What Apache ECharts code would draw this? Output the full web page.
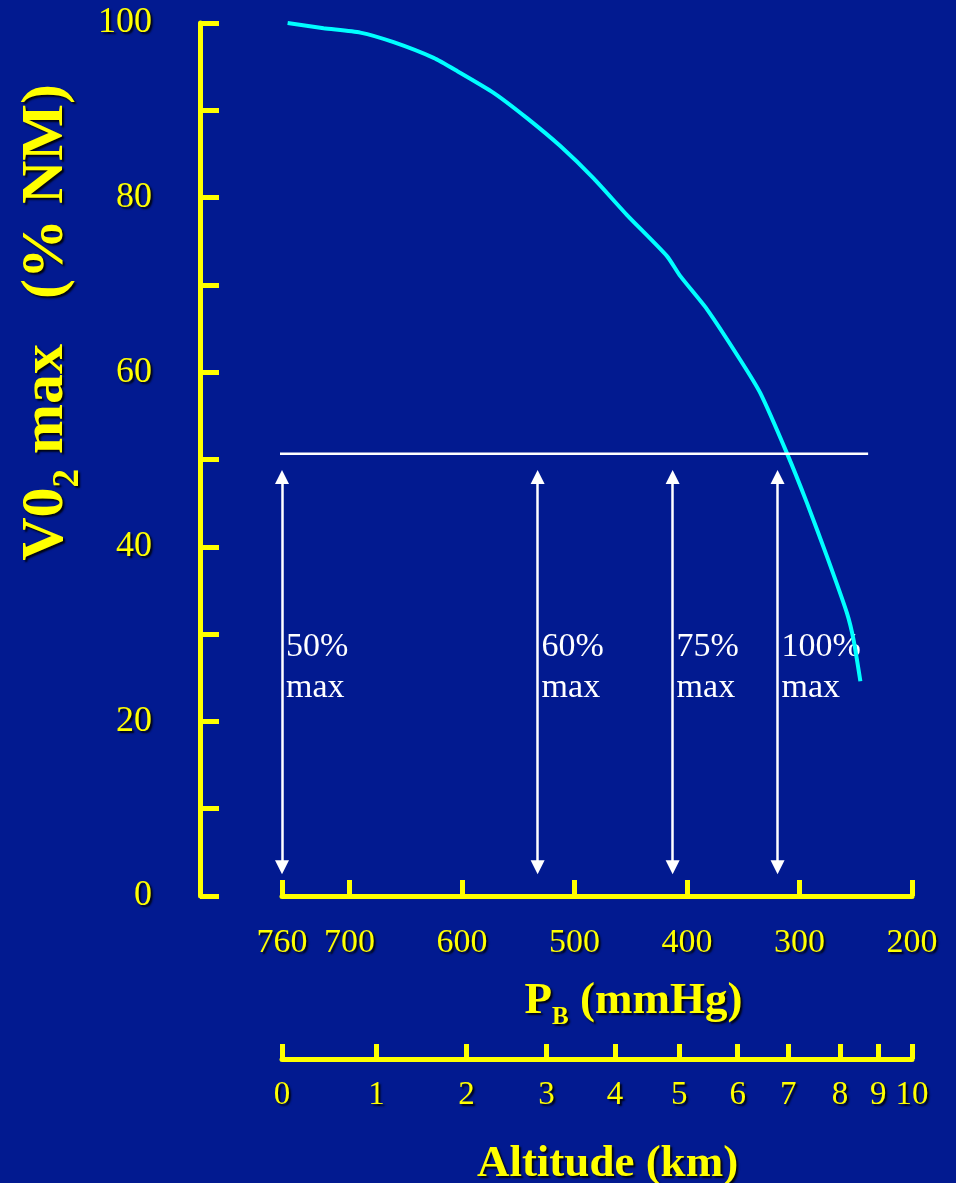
<!DOCTYPE html>
<html>
<head>
<meta charset="utf-8">
<script src="https://cdn.jsdelivr.net/npm/echarts@6/dist/echarts.min.js"></script>
<style>
  html, body { margin: 0; padding: 0; background: #021A90; }
  #chart { width: 956px; height: 1183px; }
</style>
</head>
<body>
<div id="chart"></div>
<script>
// ---- data ----
const yTickLabels = [0, 20, 40, 60, 80, 100];
const pressureTicks = [760, 700, 600, 500, 400, 300, 200];
const altitudeKm = [0, 1, 2, 3, 4, 5, 6, 7, 8, 9, 10];
const altitudePressure = [760, 676, 596, 525, 464, 407, 355, 310, 264, 230, 200];

const curvePressure = [755, 723, 690.4, 660.8, 625.2, 604.4, 571.9, 542.2, 512.6, 483, 453.3, 417.8, 405.9, 382.2, 352.6, 334.8, 311.1, 293.3, 275.6, 257.8, 251.9, 245.9];
const curveVo2 = [100, 99.4, 98.9, 97.8, 96.0, 94.5, 92.0, 89.1, 85.9, 82.2, 78.0, 73.3, 71.0, 67.2, 61.4, 57.6, 50.7, 45.0, 38.9, 32.4, 29.3, 24.6];

const refLevel = 50.65;
const refLinePressure = [773, 239];

const arrowPressure = [760, 532.8, 412.8, 319.5];
const arrowLabels = ['50%\nmax', '60%\nmax', '75%\nmax', '100%\nmax'];
const arrowTop = 48.0;
const arrowBottom = 3.3;
const arrowLabelLevel = 26.2;

// ---- styles ----
const YEL = '#FFFF00';
const SERIF = "'Liberation Serif', 'Times New Roman', serif";
const shadow = { textShadowColor: 'rgba(0,0,0,0.9)', textShadowOffsetX: 2, textShadowOffsetY: 2, textShadowBlur: 2 };

const chart = echarts.init(document.getElementById('chart'), null, { renderer: 'canvas' });

const option = {
  backgroundColor: '#021A90',
  animation: false,
  grid: { left: 282, right: 44, top: 23, bottom: 287, outerBoundsMode: 'none', containLabel: false },
  xAxis: [
    {
      type: 'value', min: 200, max: 760, inverse: true, position: 'bottom', offset: 3,
      splitLine: { show: false },
      axisLine: { show: true, lineStyle: { color: YEL, width: 5 } },
      axisTick: { show: true, inside: true, length: 16, customValues: pressureTicks, lineStyle: { color: YEL, width: 5 } },
      axisLabel: { show: true, customValues: pressureTicks, margin: 27, color: YEL, fontSize: 34, fontFamily: SERIF, ...shadow },
      name: '{b|P}{s|B}{b| (mmHg)}',
      nameLocation: 'middle', nameGap: 80,
      nameTextStyle: {
        padding: [0, 0, 0, 73],
        rich: {
          b: { fontSize: 45, fontWeight: 'bold', lineHeight: 45, verticalAlign: 'top', color: YEL, fontFamily: SERIF, ...shadow },
          s: { fontSize: 25, fontWeight: 'bold', lineHeight: 77, verticalAlign: 'middle', color: YEL, fontFamily: SERIF, ...shadow }
        }
      }
    },
    {
      type: 'value', min: 200, max: 760, inverse: true, position: 'bottom', offset: 163,
      splitLine: { show: false },
      axisLine: { show: true, lineStyle: { color: YEL, width: 5 } },
      axisTick: { show: true, inside: true, length: 15, customValues: altitudePressure, lineStyle: { color: YEL, width: 5 } },
      axisLabel: {
        show: true, customValues: altitudePressure, margin: 20, color: YEL, fontSize: 33, fontFamily: SERIF, ...shadow,
        formatter: function (v) {
          const i = altitudePressure.indexOf(v);
          return i >= 0 ? String(altitudeKm[i]) : '';
        }
      },
      name: 'Altitude (km)',
      nameLocation: 'middle', nameGap: 83,
      nameTextStyle: { padding: [0, 0, 0, 21], fontSize: 45, fontWeight: 'bold', color: YEL, fontFamily: SERIF, lineHeight: 45, ...shadow }
    }
  ],
  yAxis: {
    type: 'value', min: 0, max: 100, interval: 10, position: 'left', offset: 82,
    splitLine: { show: false },
    axisLine: { show: true, lineStyle: { color: YEL, width: 5 } },
    axisTick: { show: true, inside: true, length: 19, lineStyle: { color: YEL, width: 5 } },
    axisLabel: { show: true, customValues: yTickLabels, margin: 48, color: YEL, fontSize: 36, fontFamily: SERIF, ...shadow },
    name: '{b|V0}{s|2}{b| max   (% NM)}',
    nameLocation: 'middle', nameGap: 79,
    nameTextStyle: {
      padding: [0, 0, 0, 274],
      rich: {
        b: { fontSize: 60, fontWeight: 'bold', lineHeight: 60, verticalAlign: 'top', color: YEL, fontFamily: SERIF, ...shadow },
        s: { fontSize: 37, fontWeight: 'bold', lineHeight: 104, verticalAlign: 'middle', color: YEL, fontFamily: SERIF, ...shadow }
      }
    }
  },
  series: [
    {
      name: 'VO2max', type: 'line', xAxisIndex: 0, yAxisIndex: 0, clip: false,
      data: curvePressure.map((p, i) => [p, curveVo2[i]]),
      smooth: 0.2, showSymbol: false, symbol: 'none',
      lineStyle: { color: '#00FFFF', width: 4 }
    },
    {
      name: 'ref', type: 'line', xAxisIndex: 0, yAxisIndex: 0, clip: false,
      data: refLinePressure.map(p => [p, refLevel]),
      showSymbol: false, symbol: 'none',
      lineStyle: { color: '#FFFFFF', width: 2.5 },
      markLine: {
        silent: true, animation: false,
        symbol: ['triangle', 'triangle'], symbolSize: [14, 14],
        label: { show: false },
        lineStyle: { color: '#FFFFFF', width: 2.5, type: 'solid', opacity: 1 },
        data: arrowPressure.map(p => [{ coord: [p, arrowTop] }, { coord: [p, arrowBottom] }])
      }
    },
    {
      name: 'labels', type: 'scatter', xAxisIndex: 0, yAxisIndex: 0, clip: false,
      symbolSize: 0, silent: true,
      data: arrowPressure.map((p, i) => [p, arrowLabelLevel, arrowLabels[i]]),
      label: {
        show: true, position: 'right', distance: 4, align: 'left',
        formatter: prm => prm.value[2],
        color: '#FFFFFF', opacity: 1, textBorderWidth: 0, fontSize: 34, lineHeight: 41, fontFamily: SERIF
      }
    }
  ]
};
chart.setOption(option);
</script>
</body>
</html>
